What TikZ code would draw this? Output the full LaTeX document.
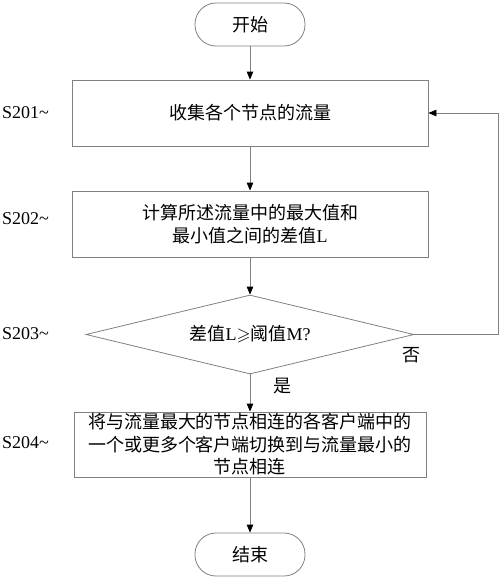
\documentclass[tikz,border=0pt]{standalone}
\usepackage{fontspec}
\usepackage{amssymb}
\setmainfont{Liberation Serif}
\newfontfamily\cjk{Noto Sans CJK SC}
\usetikzlibrary{arrows.meta,shapes.geometric}
\tikzset{
  every node/.style={font=\fontsize{18}{22.5}\selectfont},
  line/.style={draw=black!50, line width=0.8pt},
  arr/.style={line, -{Triangle[length=8pt,width=6.5pt,color=black]}},
  procbox/.style={line, rectangle, minimum width=356pt, align=center, inner sep=0pt},
  term/.style={line, rectangle, rounded corners=21pt, minimum width=110pt, minimum height=43pt, inner sep=0pt},
  decision/.style={line, diamond, aspect=4.15, minimum width=328pt, minimum height=79pt, inner sep=0pt},
  steplabel/.style={anchor=west, inner sep=0pt},
  plain/.style={inner sep=0pt}
}
\begin{document}
\begin{tikzpicture}[x=1pt,y=-1pt]
\useasboundingbox (0,0) rectangle (500,579);
\node[term] (start) at (250,24.5) {\cjk 开始};
\node[procbox, minimum height=66pt] (b1) at (250,113) {\cjk 收集各个节点的流量};
\node[procbox, minimum height=66pt] (b2) at (250,224) {\cjk 计算所述流量中的最大值和\\{\cjk 最小值之间的差值}L};
\node[decision] (d) at (250,334.5) {{\cjk 差值}L$\geqslant${\cjk 阈值}M?};
\node[procbox, minimum width=352pt, minimum height=65pt] (b4) at (250,444.5) {\cjk 将与流量最大的节点相连的各客户端中的\\\cjk 一个或更多个客户端切换到与流量最小的\\\cjk 节点相连};
\node[term] (end) at (250,554.5) {\cjk 结束};
\node[steplabel] (l1) at (2,113) {S201\textasciitilde};
\node[steplabel] (l2) at (2,219) {S202\textasciitilde};
\node[steplabel] (l3) at (2,334) {S203\textasciitilde};
\node[steplabel] (l4) at (2,443) {S204\textasciitilde};
\node[plain] (no) at (411,355) {\cjk 否};
\node[plain] (yes) at (282,386) {\cjk 是};
\coordinate (fb) at (498,334.5);
\draw[arr] (start) -- (b1);
\draw[arr] (b1) -- (b2);
\draw[arr] (b2) -- (d);
\draw[arr] (d) -- (b4);
\draw[arr] (b4) -- (end);
\draw[arr] (d.east) -- (fb) |- (b1.east);
\end{tikzpicture}
\end{document}
